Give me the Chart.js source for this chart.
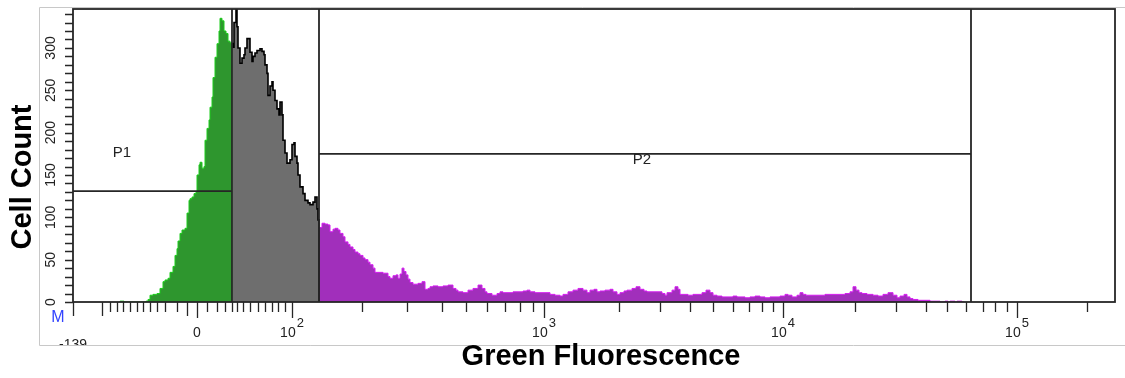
<!DOCTYPE html>
<html><head><meta charset="utf-8">
<script src="https://cdn.jsdelivr.net/npm/chart.js@4.4.0/dist/chart.umd.min.js"></script>
<style>html,body{margin:0;padding:0;background:#fff;overflow:hidden}canvas{display:block}</style>
</head><body>
<canvas id="c" width="1125" height="378"></canvas>
<script>
// ---------------- DATA ----------------
const yTitle = 'Cell Count';
const xTitle = 'Green Fluorescence';
// x values are display channels along the biexponential fluorescence axis
const p1Channels = [47,51,54,73,75,77,80,84,87,90,92,95,97,100,102,104,105,107,109,112,114,116,117,119,121,123,124,126,127,129,131,132,134,136,137,139,140,142,144,146,147,149,151,153,155,157,159,160];
const p1Counts   = [0,1,0,0,1,3,8,9,10,16,24,26,28,35,42,55,63,72,81,85,87,105,120,122,124,128,130,150,162,165,158,160,191,205,215,230,242,265,289,305,320,335,332,320,317,308,306,0];

const midChannels = [160,161,163,164,165,167,169,171,172,174,177,179,180,182,184,187,189,191,192,194,195,197,199,200,202,204,206,207,209,210,212,214,217,219,221,222,224,225,227,230,232,235,237,240,242,244,245,246,247];
const midCounts   = [306,301,330,345,325,300,282,288,292,300,311,295,284,290,294,297,299,296,292,280,270,244,255,260,250,238,228,221,236,221,191,176,164,168,186,188,172,164,150,136,128,120,117,115,118,124,110,97,0];

const p2Channels = [246,249,252,255,257,260,262,265,267,270,272,275,277,280,282,285,287,290,292,295,297,300,302,305,310,315,317,320,323,325,327,329,331,333,335,337,340,345,349,352,355,357,360,365,370,375,380,383,385,390,395,400,405,409,412,414,419,424,427,430,435,440,445,450,454,457,462,467,472,477,482,487,490,495,500,505,510,514,517,521,524,527,532,537,540,544,547,551,554,559,563,567,571,574,577,582,586,589,592,594,599,602,605,607,610,615,620,625,629,633,637,640,644,649,654,660,664,667,672,677,682,687,692,697,702,707,712,715,719,724,727,730,733,737,742,747,752,757,762,767,772,777,780,783,786,789,794,800,805,810,815,820,824,827,831,834,837,840,845,850,857,862,867,872,875,877,882,884,889,891];
const p2Counts   = [85,88,93,92,91,83,86,87,85,81,77,71,68,65,62,59,57,55,52,50,47,44,40,35,35,34,30,28,31,32,28,33,40,36,32,27,23,21,22,24,15,16,18,19,18,19,20,16,14,12,11,14,16,20,16,12,10,8,10,12,11,11,12,12,13,14,12,11,11,11,9,8,7,9,12,14,16,14,11,14,15,12,13,14,15,12,9,11,13,14,16,18,15,13,12,12,12,12,10,8,11,14,18,15,9,9,8,9,9,11,14,11,8,7,6,6,7,6,6,5,6,7,6,5,6,6,7,9,8,6,8,11,9,8,8,8,8,9,9,9,9,10,12,18,14,11,10,9,8,7,9,11,8,5,7,9,6,4,3,2,2,1,1,0,1,0,1,0,1,0];

// gates (channel, count)
const gateP1X = [0,159,159,159];
const gateP1Y = [131,131,0,346];
const gateP2X = [246,246,246,898,898,898];
const gateP2Y = [0,346,175,175,346,0];
const gateLabels = ['P1','P2'];
const gateLabelX = [49,569];
const gateLabelY = [176,168];

// axes
const xMin = 0, xMax = 1042;
const yMin = 0, yMax = 346;
const yLabelValues = [0,50,100,150,200,250,300];
const yTickValues = [0,10,20,30,40,50,60,70,80,90,100,110,120,130,140,150,160,170,180,190,200,210,220,230,240,250,260,270,280,290,300,310,320,330,340];
const xMajorTicks = [124,219,471,710,944];
const xMajorBase  = ['0','10','10','10','10'];
const xMajorExp   = ['','2','3','4','5'];
const xMediumTicks = [0,29,114];
const xMinorTicks = [37,44,50,57,64,70,77,84,92,104,134,144,152,159,164,170,177,185,192,199,205,212,289,334,369,393,414,432,447,460,546,587,617,640,660,676,689,700,782,823,853,874,893,910,922,934,1014];
const xMinLabel = '-139';
const markerLabel = 'M';

// ---------------- CHART ----------------
const pts = (xs, ys) => xs.map((v, i) => ({x: v, y: ys[i]}));
const FONT = "'Liberation Sans', Arial, sans-serif";

const decor = {
  id: 'decor',
  afterDraw(chart) {
    const {ctx, chartArea: a, scales: {x, y}} = chart;
    ctx.save();
    // outer light frame
    ctx.strokeStyle = '#c8c8c8'; ctx.lineWidth = 1;
    ctx.beginPath();
    ctx.moveTo(1125, 7.5); ctx.lineTo(39.5, 7.5); ctx.lineTo(39.5, 345.5); ctx.lineTo(1125, 345.5);
    ctx.stroke();
    // plot frame
    ctx.strokeStyle = '#262626'; ctx.lineWidth = 1.8;
    ctx.strokeRect(a.left, a.top, a.right - a.left, a.bottom - a.top);
    // y ticks
    ctx.lineWidth = 1.3;
    ctx.beginPath();
    yTickValues.forEach(v => {
      const py = Math.round(y.getPixelForValue(v)) + 0.5;
      ctx.moveTo(a.left - 8, py); ctx.lineTo(a.left, py);
    });
    // x ticks
    const xt = (arr, len) => arr.forEach(v => {
      const px = Math.round(x.getPixelForValue(v)) + 0.5;
      ctx.moveTo(px, a.bottom); ctx.lineTo(px, a.bottom + len);
    });
    xt(xMinorTicks, 10); xt(xMediumTicks, 14); xt(xMajorTicks, 16);
    ctx.stroke();
    // y labels (rotated)
    ctx.fillStyle = '#222';
    ctx.font = '14px ' + FONT;
    ctx.textAlign = 'center'; ctx.textBaseline = 'middle';
    yLabelValues.forEach(v => {
      ctx.save();
      ctx.translate(51, y.getPixelForValue(v));
      ctx.rotate(-Math.PI / 2);
      ctx.fillText(String(v), 0, 0);
      ctx.restore();
    });
    // x labels
    ctx.textBaseline = 'alphabetic';
    xMajorTicks.forEach((v, i) => {
      const px = x.getPixelForValue(v);
      ctx.font = '14px ' + FONT;
      const wb = ctx.measureText(xMajorBase[i]).width;
      ctx.font = '13px ' + FONT;
      const we = xMajorExp[i] ? ctx.measureText(xMajorExp[i]).width + 1 : 0;
      const start = px - (wb + we) / 2;
      ctx.textAlign = 'left';
      ctx.font = '14px ' + FONT;
      ctx.fillText(xMajorBase[i], start, 337);
      if (xMajorExp[i]) {
        ctx.font = '13px ' + FONT;
        ctx.fillText(xMajorExp[i], start + wb + 1, 327);
      }
    });
    // min label, clipped by frame
    ctx.save();
    ctx.beginPath(); ctx.rect(40, 320, 200, 25); ctx.clip();
    ctx.font = '14px ' + FONT; ctx.textAlign = 'center';
    ctx.fillText(xMinLabel, x.getPixelForValue(0), 349);
    ctx.restore();
    // marker
    ctx.fillStyle = '#3344ff'; ctx.font = '16px ' + FONT; ctx.textAlign = 'center';
    ctx.fillText(markerLabel, 58, 322);
    // gate labels
    ctx.fillStyle = '#222'; ctx.font = '15px ' + FONT; ctx.textBaseline = 'middle';
    gateLabels.forEach((t, i) => ctx.fillText(t, x.getPixelForValue(gateLabelX[i]), y.getPixelForValue(gateLabelY[i])));
    // titles
    ctx.fillStyle = '#000'; ctx.font = 'bold 29px ' + FONT;
    ctx.textBaseline = 'middle';
    ctx.fillText(xTitle, 601, 357);
    ctx.save();
    ctx.translate(23, 177); ctx.rotate(-Math.PI / 2);
    ctx.fillText(yTitle, 0, 0);
    ctx.restore();
    ctx.restore();
  }
};

new Chart(document.getElementById('c'), {
  type: 'line',
  data: {
    datasets: [
      {label: 'P1 gate', data: pts(gateP1X, gateP1Y), borderColor: '#262626', borderWidth: 1.8, fill: false, pointRadius: 0, tension: 0, order: 0},
      {label: 'P2 gate', data: pts(gateP2X, gateP2Y), borderColor: '#262626', borderWidth: 1.8, fill: false, pointRadius: 0, tension: 0, order: 0},
      {label: 'mid', data: pts(midChannels, midCounts), stepped: 'after', fill: 'origin', backgroundColor: '#6e6e6e', borderColor: '#000', borderWidth: 1.6, pointRadius: 0, order: 1},
      {label: 'P1', data: pts(p1Channels, p1Counts), stepped: 'after', fill: 'origin', backgroundColor: '#2e962e', borderColor: '#1ccc1c', borderWidth: 1, pointRadius: 0, order: 2},
      {label: 'P2', data: pts(p2Channels, p2Counts), stepped: 'after', fill: 'origin', backgroundColor: '#a12fbb', borderColor: '#d41ef0', borderWidth: 1, pointRadius: 0, order: 2}
    ]
  },
  options: {
    responsive: false, animation: false, events: [],
    layout: {padding: {left: 73, top: 9, right: 10, bottom: 76}},
    plugins: {legend: {display: false}, tooltip: {enabled: false}},
    scales: {
      x: {type: 'linear', min: xMin, max: xMax, display: false},
      y: {type: 'linear', min: yMin, max: yMax, display: false}
    }
  },
  plugins: [decor]
});
</script>
</body></html>
